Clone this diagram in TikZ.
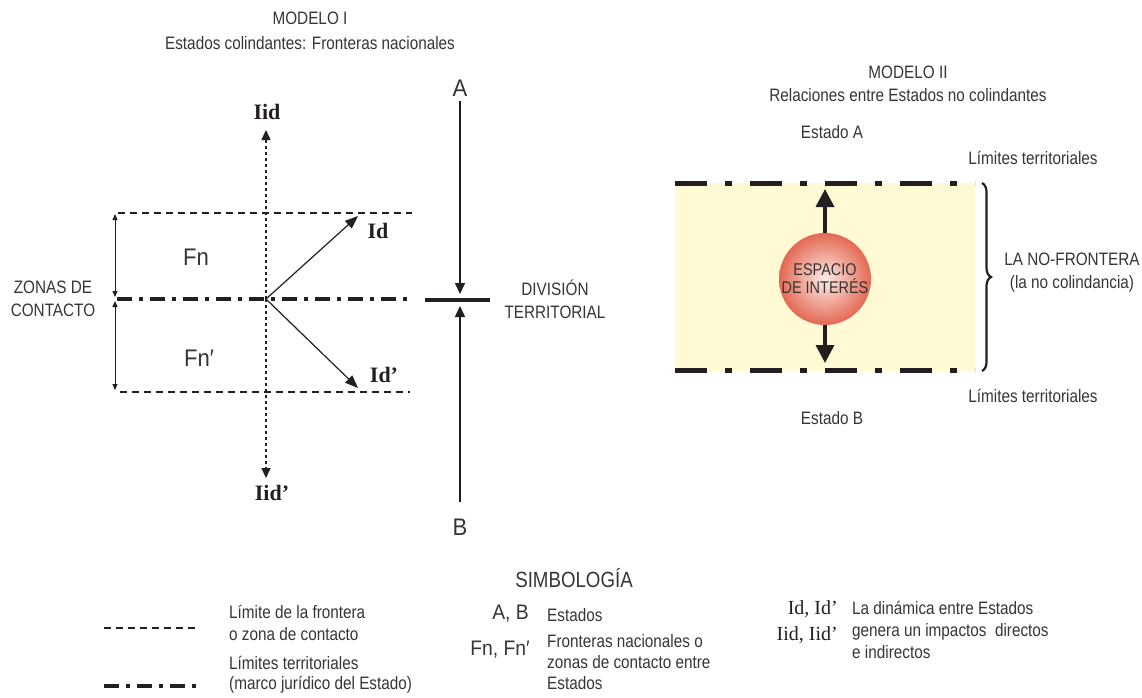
\documentclass[tikz,border=0pt]{standalone}
\usepackage{fontspec}
\setmainfont{Liberation Sans}[FakeStretch=0.85]
\newfontfamily\impactfont{Liberation Serif}
\newfontfamily\fnfont{Liberation Sans}[FakeStretch=0.92]
\usepackage{xcolor}
\usetikzlibrary{arrows.meta,positioning,decorations.pathreplacing}
\definecolor{inkgray}{RGB}{35,31,32}
\definecolor{textgray}{RGB}{55,52,53}
\definecolor{zonecream}{RGB}{255,250,212}
\definecolor{ballred}{RGB}{228,104,84}
\definecolor{ballpink}{RGB}{252,236,230}

\begin{document}
\begin{tikzpicture}[x=1pt, y=-1pt,
    lbl/.style={text=textgray, font=\fontsize{18}{23}\selectfont, align=center, inner sep=0pt},
    legtext/.style={text=textgray, font=\fontsize{18}{22}\selectfont, align=left, inner sep=0pt, anchor=west},
    bigletter/.style={text=textgray, font=\fnfont\fontsize{24}{28}\selectfont, inner sep=0pt},
    impact/.style={text=inkgray, font=\impactfont\bfseries\fontsize{22}{25}\selectfont, inner sep=0pt},
    limitline/.style={draw=inkgray, line width=1.4pt, dash pattern=on 7pt off 5pt},
    territory/.style={draw=inkgray, line width=4pt, dash pattern=on 15pt off 7pt on 4pt off 7pt},
    territorybig/.style={draw=inkgray, line width=5pt, dash pattern=on 32pt off 18pt on 7pt off 18pt},
    statearrow/.style={draw=inkgray, line width=1.5pt, -{Triangle[length=11pt,width=10pt]}},
    dynarrow/.style={draw=inkgray, line width=1.2pt, -{Triangle[length=13pt,width=10pt]}},
    dotarrow/.style={draw=inkgray, line width=1.6pt, dash pattern=on 3pt off 3pt, -{Triangle[length=10pt,width=9pt]}},
    zonearrow/.style={draw=inkgray, line width=1pt, {Triangle[length=6pt,width=5pt]}-{Triangle[length=6pt,width=5pt]}},
    outarrow/.style={draw=inkgray, line width=3.5pt, -{Triangle[length=18pt,width=18pt]}}
]
\useasboundingbox (0,0) rectangle (1142,697);

% MODELO I
\node[lbl, font=\fontsize{18}{25}\selectfont] (titleI) at (310,31) {MODELO I\\Estados colindantes: Fronteras nacionales};

% territorial division A / B
\node[bigletter] (statea) at (460,88) {A};
\node[bigletter] (stateb) at (460,527) {B};
\coordinate (divtop) at (460,294);
\coordinate (divbot) at (460,306);
\coordinate (divleft) at (425,300);
\coordinate (divright) at (490,300);
\draw[inkgray, line width=4pt] (divleft) -- (divright);
\draw[statearrow] (460,101) -- (divtop);
\draw[statearrow] (460,502) -- (divbot);
\node[lbl] (division) at (555,299) {DIVISIÓN\\TERRITORIAL};

% contact zones
\coordinate (hub) at (266,299);
\draw[limitline] (118,213) -- (412,213);
\draw[limitline] (120,392) -- (410,392);
\draw[territory] (117,299) -- (410,299);
\draw[zonearrow] (115,214) -- (115,297);
\draw[zonearrow] (115,301) -- (115,390);
\node[lbl] (zonas) at (53,299) {ZONAS DE\\CONTACTO};
\node[bigletter] (fn) at (196,257) {Fn};
\node[bigletter] (fnp) at (199,358) {Fn′};

% impacts
\node[impact] (iid) at (267,112) {Iid};
\node[impact] (iidp) at (272,493) {Iid’};
\draw[dotarrow] (hub) -- (266,130);
\draw[dotarrow] (hub) -- (266,478);
\coordinate (idtip) at (358,216);
\coordinate (idptip) at (358,388);
\draw[dynarrow] (hub) -- (idtip);
\draw[dynarrow] (hub) -- (idptip);
\node[impact] (id) at (378,231) {Id};
\node[impact] (idp) at (384,375) {Id’};

% MODELO II
\node[lbl] (titleII) at (908,84) {MODELO II\\Relaciones entre Estados no colindantes};
\node[lbl] (estadoa) at (832,132) {Estado A};
\node[lbl] (estadob) at (832,418) {Estado B};
\node[lbl] (limtop) at (1033,158) {Límites territoriales};
\node[lbl] (limbot) at (1033,396) {Límites territoriales};
\fill[zonecream] (675,183) rectangle (975,371);
\draw[territorybig] (675,183) -- (975,183);
\draw[territorybig] (675,370) -- (975,370);
\draw[inkgray, line width=2.2pt, decorate, decoration={brace, amplitude=9pt}] (982,183) -- (982,371);
\node[lbl] (nofrontera) at (1072,273) {LA NO-FRONTERA\\(la no colindancia)};

\node[circle, minimum size=92pt, inner sep=0pt, shade, inner color=ballpink, outer color=ballred,
      text=textgray, font=\fontsize{17}{18}\selectfont, align=center] (espacio) at (825,279) {ESPACIO\\DE INTERÉS};
\coordinate (uptip) at (825,189);
\coordinate (downtip) at (825,363);
\draw[outarrow] (espacio.north) -- (uptip);
\draw[outarrow] (espacio.south) -- (downtip);

% SIMBOLOGIA
\node[lbl, font=\fontsize{22}{24}\selectfont] (simbologia) at (574,578) {SIMBOLOGÍA};
\draw[limitline] (104,628) -- (196,628);
\node[legtext] (legfront) at (229,623) {Límite de la frontera\\o zona de contacto};
\draw[territory] (104,686) -- (200,686);
\node[legtext, font=\fontsize{18}{20}\selectfont] (legterr) at (229,675) {Límites territoriales\\(marco jurídico del Estado)};

\node[lbl, font=\fnfont\fontsize{21}{24}\selectfont, anchor=east] (legab) at (529,614) {A, B};
\node[legtext] (legestados) at (547,615) {Estados};
\node[lbl, font=\fnfont\fontsize{21}{24}\selectfont, anchor=east] (legfn) at (530,650) {Fn, Fn′};
\node[legtext, anchor=north west, font=\fontsize{18}{21}\selectfont] (legfnt) at (547,634) {Fronteras nacionales o\\zonas de contacto entre\\Estados};

\node[impact, font=\impactfont\fontsize{20}{26}\selectfont, align=right, anchor=north east] (legid) at (838,600) {Id, Id’\\Iid, Iid’};
\node[legtext, anchor=north west] (legdin) at (852,601) {La dinámica entre Estados\\genera un impactos\ \ directos\\e indirectos};
\end{tikzpicture}
\end{document}
